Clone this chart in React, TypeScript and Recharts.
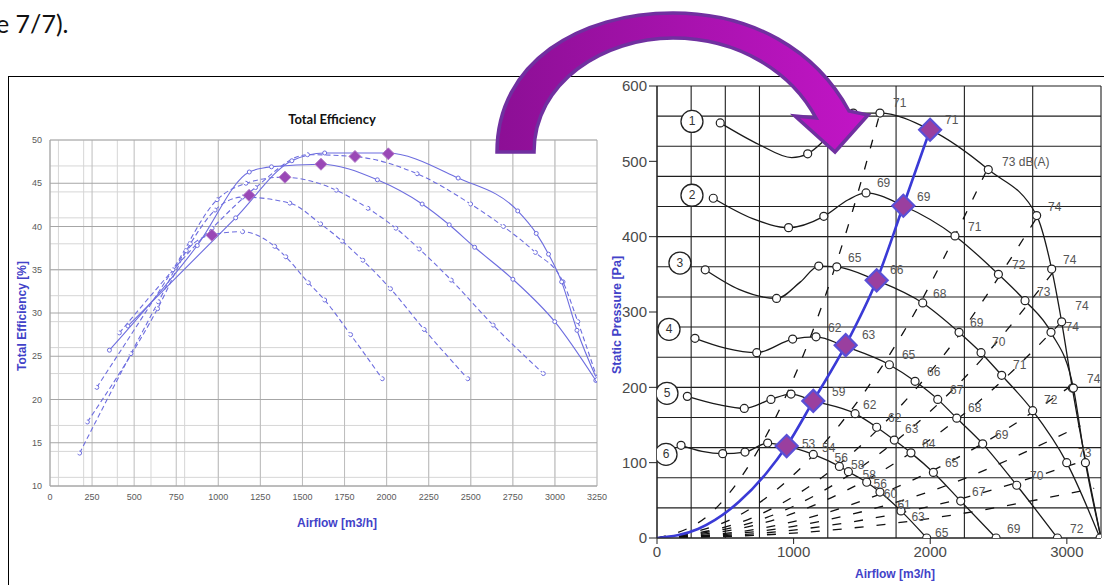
import { ComposedChart, Line, Scatter, XAxis, YAxis, CartesianGrid } from 'recharts'

type Row = number[]

// ---------- left chart: total efficiency [%] vs airflow [m3/h] ----------
// one curve per fan speed (speed 1 = highest, matches the circled numbers on the right)
const effSpeed1: Row[] = [[463, 28.5], [1103, 41], [1437, 47.6], [1632, 48.5], [1999, 48.5], [2425, 45.6], [2779, 41.8], [2889, 39.2], [2962, 36.8], [3040, 33.6], [3131, 28], [3250, 22.3]]
const effSpeed2: Row[] = [[412, 27.7], [963, 39.8], [1221, 44.5], [1530, 48.3], [1803, 48.1], [2181, 46.1], [2499, 42.6], [2694, 40], [2884, 37], [3048, 33.6], [3136, 29], [3250, 22.5]]
const effSpeed3: Row[] = [[353, 25.7], [875, 37.8], [1184, 46.3], [1316, 46.9], [1608, 47.2], [1945, 45.4], [2211, 42.6], [2372, 40.2], [2523, 37.6], [2750, 33.9], [2999, 29], [3243, 22.2]]
const effSpeed4: Row[] = [[278, 21.4], [730, 35], [993, 43.1], [1164, 45], [1381, 45.7], [1701, 44.2], [1889, 42.1], [2055, 39.8], [2194, 37.4], [2384, 33.8], [2633, 28.6], [2931, 23]]
const effSpeed5: Row[] = [[222, 17.4], [639, 30.5], [834, 38], [981, 41.9], [1144, 43.4], [1425, 42.7], [1608, 40.3], [1737, 38.3], [1859, 36.1], [2023, 32.8], [2223, 28.1], [2482, 22.4]]
const effSpeed6: Row[] = [[176, 13.8], [481, 25.3], [644, 31.3], [810, 37.2], [949, 39], [1144, 39.4], [1335, 37.7], [1401, 36.5], [1535, 33.5], [1632, 31.5], [1786, 27.5], [1974, 22.4]]
const effBest: Row[] = [[962, 39], [1183, 43.6], [1396, 45.7], [1610, 47.2], [1812, 48.1], [2010, 48.4]]
const effTicksX = [0, 250, 500, 750, 1000, 1250, 1500, 1750, 2000, 2250, 2500, 2750, 3000, 3250]
const effTicksY = [10, 15, 20, 25, 30, 35, 40, 45, 50]

// ---------- right chart: static pressure [Pa] vs airflow [m3/h] ----------
// third value = 1 where the original draws a measuring circle
const fan1: Row[] = [[463, 551, 1], [750, 522], [986, 505], [1103, 510, 1], [1250, 532], [1437, 564, 1], [1632, 564, 1], [1999, 542], [2425, 489, 1], [2779, 428, 1], [2889, 357, 1], [2962, 287, 1], [3040, 199, 1], [3250, 0, 1]]
const fan2: Row[] = [[412, 451, 1], [700, 424], [963, 412, 1], [1221, 427, 1], [1400, 449], [1530, 458, 1], [1803, 441], [2181, 401, 1], [2499, 350, 1], [2694, 315, 1], [2884, 273, 1], [3048, 199, 1], [3136, 100, 1], [3250, 0]]
const fan3: Row[] = [[353, 356, 1], [600, 330], [875, 318, 1], [1050, 340], [1184, 361, 1], [1316, 360, 1], [1608, 342], [1945, 312, 1], [2211, 273, 1], [2372, 246, 1], [2523, 216, 1], [2750, 169, 1], [2999, 100, 1], [3243, 0, 1]]
const fan4: Row[] = [[278, 265, 1], [500, 252], [730, 246, 1], [993, 264, 1], [1164, 267, 1], [1381, 254], [1701, 230, 1], [1889, 208, 1], [2055, 184, 1], [2194, 159, 1], [2384, 125, 1], [2633, 70, 1], [2931, 0, 1]]
const fan5: Row[] = [[222, 188, 1], [450, 177], [639, 172, 1], [834, 184, 1], [981, 191, 1], [1144, 182], [1450, 165, 1], [1608, 147, 1], [1737, 130, 1], [1859, 113, 1], [2023, 87, 1], [2223, 49, 1], [2482, 0, 1]]
const fan6: Row[] = [[176, 123, 1], [330, 115], [481, 112, 1], [644, 114, 1], [810, 126, 1], [949, 122], [1144, 111, 1], [1335, 95, 1], [1401, 88, 1], [1535, 74, 1], [1632, 61, 1], [1786, 36, 1], [1974, 0, 1]]
const systemCurve: Row[] = [[0, 0], [300, 12], [600, 48], [800, 86], [949, 122], [1144, 182], [1381, 256], [1608, 342], [1803, 441], [1999, 542]]
const workPoints: Row[] = [[949, 122], [1144, 182], [1381, 256], [1608, 342], [1803, 441], [1999, 542]]
// dashed throttle lines
const throttleLines: Row[][] = [
  [[0, 0], [400, 34], [800, 136], [1100, 256], [1400, 415], [1632, 564]],
  [[0, 0], [600, 30], [1200, 121], [1800, 272], [2413, 488]],
  [[0, 0], [700, 27], [1400, 108], [2100, 243], [2779, 425]],
  [[0, 0], [800, 27], [1600, 108], [2300, 222], [2904, 354]],
  [[0, 0], [800, 21], [1600, 84], [2400, 188], [2962, 287]],
  [[0, 0], [800, 14], [1600, 56], [2400, 127], [3040, 203]],
  [[0, 0], [1000, 15.5], [2000, 62], [3100, 149]],
  [[0, 0], [1000, 10.5], [2000, 42], [3150, 104]],
  [[0, 0], [1000, 6.5], [2000, 26], [3200, 66]],
]
const speedMarks: Row[] = [[256, 553, 1], [256, 455, 2], [168, 365, 3], [88, 277, 4], [73, 192, 5], [66, 111, 6]]
const noiseLabels: [number, number, string][] = [
  [1728, 577, '71'], [2108, 555, '71'], [2526, 499, '73 dB(A)'], [2862, 439, '74'],
  [1610, 471, '69'], [1903, 453, '69'], [2277, 413, '71'], [2599, 362, '72'], [2782, 327, '73'],
  [2972, 369, '74'], [3062, 308, '74'], [2990, 280, '74'], [3148, 211, '74'],
  [1398, 372, '65'], [1706, 356, '66'], [2020, 324, '68'], [2291, 285, '69'], [2452, 260, '70'],
  [2606, 230, '71'], [2833, 183, '72'], [3082, 113, '73'],
  [1252, 279, '62'], [1500, 269, '63'], [1793, 243, '65'], [1977, 221, '66'], [2145, 196, '67'],
  [2277, 172, '68'], [2474, 137, '69'], [2730, 82, '70'],
  [1281, 194, '59'], [1508, 177, '62'], [1691, 159, '62'], [1815, 145, '63'], [1940, 125, '64'],
  [2108, 100, '65'], [2306, 61, '67'],
  [1061, 125, '53'], [1208, 119, '54'], [1300, 106, '56'], [1420, 97, '58'], [1505, 84, '58'],
  [1585, 72, '56'], [1660, 58, '60'], [1760, 44, '61'], [1862, 28, '63'], [2035, 7, '65'],
  [2562, 12, '69'], [3023, 12, '72'],
]
const pressTicksX = [0, 1000, 2000, 3000]
const pressTicksY = [0, 100, 200, 300, 400, 500, 600]

const pts = (rows: Row[]) => rows.map(([x, y, m]) => ({ x, y, m }))
const steps = (from: number, to: number, step: number) => {
  const out: number[] = []
  for (let v = from; v <= to + 1e-9; v += step) out.push(v)
  return out
}

const EFF_BLUE = '#6d6ddf'
const TITLE_BLUE = '#4242c8'

const diamond = (h: number, fill: string, stroke: string, sw: number) => (p: any) => (
  <polygon
    points={`${p.cx},${p.cy - h} ${p.cx + h},${p.cy} ${p.cx},${p.cy + h} ${p.cx - h},${p.cy}`}
    fill={fill}
    stroke={stroke}
    strokeWidth={sw}
  />
)

const fanDot = (p: any) =>
  p.payload && p.payload.m ? (
    <circle key={p.index} cx={p.cx} cy={p.cy} r={4} fill="#fff" stroke="#222" strokeWidth={1.2} />
  ) : (
    <g key={p.index} />
  )

function EfficiencyChart() {
  const curves = [
    { d: effSpeed6, dash: '5 3' },
    { d: effSpeed5, dash: '5 3' },
    { d: effSpeed4, dash: '5 3' },
    { d: effSpeed3, dash: undefined },
    { d: effSpeed2, dash: '5 3' },
    { d: effSpeed1, dash: undefined },
  ]
  return (
    <div style={{ position: 'absolute', left: 0, top: 0 }}>
      <ComposedChart width={620} height={560} margin={{ top: 140, right: 23, bottom: 54, left: 20 }}>
        <CartesianGrid stroke="#d6d6d6" horizontalValues={steps(10, 50, 1)} verticalValues={steps(0, 3250, 50)} />
        <CartesianGrid stroke="#bdbdbd" horizontal={false} verticalValues={effTicksX} />
        <CartesianGrid stroke="#a6a6a6" vertical={false} horizontalValues={effTicksY} />
        <XAxis
          type="number"
          dataKey="x"
          domain={[0, 3250]}
          ticks={effTicksX}
          allowDataOverflow
          height={20}
          tickLine={false}
          axisLine={{ stroke: '#a6a6a6' }}
          tick={{ fontSize: 9, fill: '#5a5a5a', fontFamily: 'Liberation Sans' }}
        />
        <YAxis
          type="number"
          dataKey="y"
          domain={[10, 50]}
          ticks={effTicksY}
          allowDataOverflow
          width={30}
          tickLine={false}
          axisLine={{ stroke: '#a6a6a6' }}
          tick={{ fontSize: 9, fill: '#5a5a5a', fontFamily: 'Liberation Sans' }}
        />
        {curves.map((c, i) => (
          <Line
            key={i}
            data={pts(c.d)}
            dataKey="y"
            type="monotone"
            stroke={EFF_BLUE}
            strokeWidth={1.1}
            strokeDasharray={c.dash}
            dot={{ r: 2, stroke: EFF_BLUE, strokeWidth: 1, fill: '#fff' }}
            isAnimationActive={false}
          />
        ))}
        <Scatter data={pts(effBest)} dataKey="y" shape={diamond(6, '#9a48b6', '#b27cc8', 1)} isAnimationActive={false} />
      </ComposedChart>
    </div>
  )
}

function PressureChart() {
  const fans = [fan1, fan2, fan3, fan4, fan5, fan6]
  return (
    <div style={{ position: 'absolute', left: 590, top: 0 }}>
      <ComposedChart width={520} height={585} margin={{ top: 86, right: 9, bottom: 22, left: 10 }}>
        <CartesianGrid stroke="#1f1f1f" strokeWidth={1.1} horizontalValues={steps(0, 600, 20)} verticalValues={steps(0, 3250, 250)} />
        <XAxis
          type="number"
          dataKey="x"
          domain={[0, 3250]}
          ticks={pressTicksX}
          allowDataOverflow
          height={25}
          tickSize={6}
          tickLine={{ stroke: '#222' }}
          axisLine={{ stroke: '#222' }}
          tick={{ fontSize: 15, fill: '#4a4a4a', fontFamily: 'Liberation Sans' }}
        />
        <YAxis
          type="number"
          dataKey="y"
          domain={[0, 600]}
          ticks={pressTicksY}
          allowDataOverflow
          width={57}
          tickSize={8}
          tickLine={{ stroke: '#222' }}
          axisLine={{ stroke: '#222' }}
          tick={{ fontSize: 15, fill: '#4a4a4a', fontFamily: 'Liberation Sans' }}
        />
        {throttleLines.map((l, i) => (
          <Line
            key={'t' + i}
            data={pts(l)}
            dataKey="y"
            type="monotone"
            stroke="#111"
            strokeWidth={1.3}
            strokeDasharray="9 13"
            dot={false}
            isAnimationActive={false}
          />
        ))}
        {fans.map((f, i) => (
          <Line
            key={'f' + i}
            data={pts(f)}
            dataKey="y"
            type="monotone"
            stroke="#1a1a1a"
            strokeWidth={1.3}
            dot={fanDot}
            isAnimationActive={false}
          />
        ))}
        <Line
          data={pts(systemCurve)}
          dataKey="y"
          type="monotone"
          stroke="#3a3ad6"
          strokeWidth={2.6}
          dot={false}
          isAnimationActive={false}
        />
        <Scatter data={pts(workPoints)} dataKey="y" shape={diamond(11, '#9a3f9f', '#5a4fd6', 2.2)} isAnimationActive={false} />
        <Scatter
          data={noiseLabels.map(([x, y, t]) => ({ x, y, t }))}
          dataKey="y"
          isAnimationActive={false}
          shape={(p: any) => (
            <text x={p.cx} y={p.cy} dominantBaseline="central" fontSize={12} fill="#555" fontFamily="Liberation Sans">
              {p.payload.t}
            </text>
          )}
        />
        <Scatter
          data={pts(speedMarks)}
          dataKey="y"
          isAnimationActive={false}
          shape={(p: any) => (
            <g>
              <circle cx={p.cx} cy={p.cy} r={11} fill="#fff" stroke="#222" strokeWidth={1.3} />
              <text x={p.cx} y={p.cy} textAnchor="middle" dominantBaseline="central" fontSize={12} fill="#333" fontFamily="Liberation Sans">
                {p.payload.m}
              </text>
            </g>
          )}
        />
      </ComposedChart>
    </div>
  )
}

const axisTitle: React.CSSProperties = {
  position: 'absolute',
  color: TITLE_BLUE,
  fontFamily: 'Liberation Sans',
  fontWeight: 'bold',
  fontSize: 12,
  whiteSpace: 'nowrap',
  lineHeight: '14px',
}

export default function App() {
  return (
    <div style={{ position: 'absolute', left: 0, top: 0, width: 1104, height: 585, overflow: 'hidden', background: '#fff' }}>
      <div style={{ position: 'absolute', left: 8, top: 76, width: 1200, height: 600, borderLeft: '1px solid #000', borderTop: '1px solid #000' }} />
      <EfficiencyChart />
      <PressureChart />

      <div style={{ position: 'absolute', left: 232, top: 111, width: 200, textAlign: 'center', fontFamily: 'Lato', fontWeight: 'bold', fontSize: 13, color: '#111' }}>
        Total Efficiency
      </div>
      <div style={{ ...axisTitle, left: 22, top: 316, transform: 'translate(-50%, -50%) rotate(-90deg)' }}>Total Efficiency [%]</div>
      <div style={{ ...axisTitle, left: 337, top: 523, transform: 'translate(-50%, -50%)' }}>Airflow [m3/h]</div>
      <div style={{ ...axisTitle, left: 895, top: 574, transform: 'translate(-50%, -50%)' }}>Airflow [m3/h]</div>
      <div style={{ ...axisTitle, left: 617, top: 315, fontSize: 12.5, transform: 'translate(-50%, -50%) rotate(-90deg)' }}>Static Pressure [Pa]</div>

      <svg width={1104} height={585} style={{ position: 'absolute', left: 0, top: 0, pointerEvents: 'none' }}>
        <defs>
          <linearGradient id="arrowFill" x1="0" y1="0" x2="1" y2="0">
            <stop offset="0" stopColor="#8c0f95" />
            <stop offset="1" stopColor="#c215c6" />
          </linearGradient>
        </defs>
        <text x={-4} y={33} fontSize={25} fontFamily="Lato" fill="#111">e 7/7).</text>
        <path
          d="M497,152 C497,62 580,13 673,13 C752,13 816,50 849,111 L868,115 L835,152 L795,116 L816,118 C792,73 740,38 673,38 C604,38 534,82 534,152 Z"
          fill="url(#arrowFill)"
          stroke="#7030a0"
          strokeWidth={3.5}
        />
      </svg>
    </div>
  )
}
